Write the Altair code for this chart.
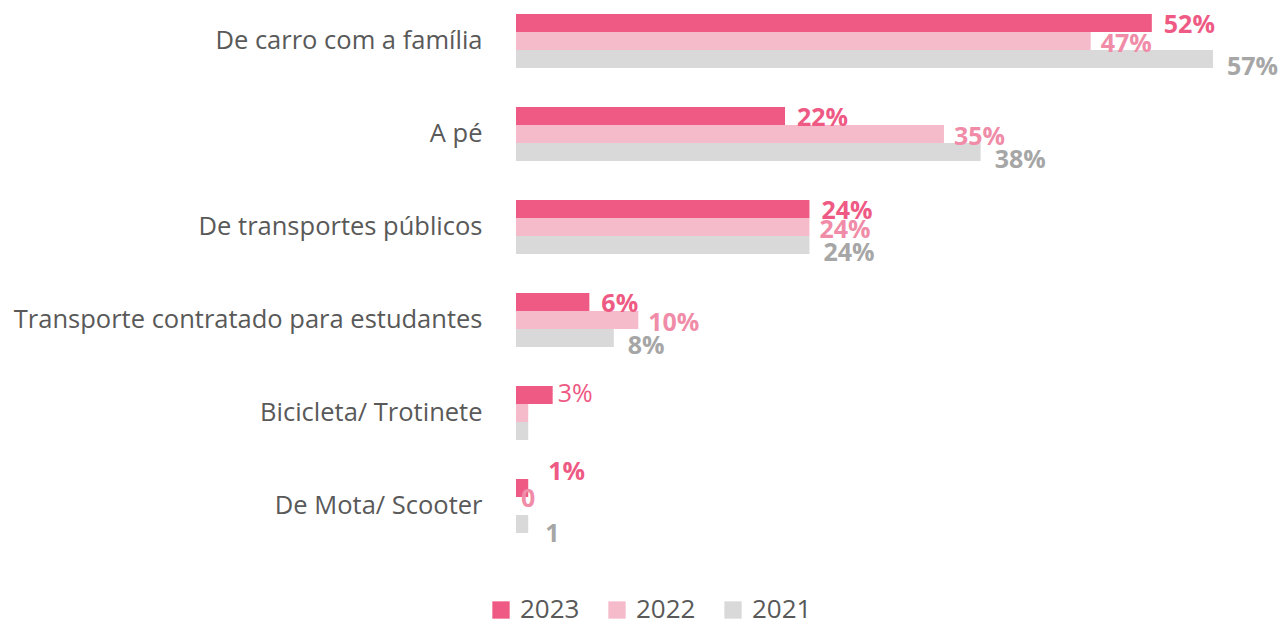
import altair as alt
import pandas as pd

categories = ["De carro com a família", "A pé", "De transportes públicos",
              "Transporte contratado para estudantes", "Bicicleta/ Trotinete",
              "De Mota/ Scooter"]
years = ["2023", "2022", "2021"]
values_2023 = [52, 22, 24, 6, 3, 1]
values_2022 = [47, 35, 24, 10, 1, 0]
values_2021 = [57, 38, 24, 8, 1, 1]
labels_2023 = ["52%", "22%", "24%", "6%", "3%", "1%"]
labels_2022 = ["47%", "35%", "24%", "10%", "", "0"]
labels_2021 = ["57%", "38%", "24%", "8%", "", "1"]

bar_colors = ["#EE5A84", "#F5BBCB", "#D9D9D9"]
label_colors = {"2023": "#EE5A84", "2022": "#F08CA8", "2021": "#A6A6A6"}

rows = []
for y, vals, labs in [("2023", values_2023, labels_2023),
                      ("2022", values_2022, labels_2022),
                      ("2021", values_2021, labels_2021)]:
    for c, v, l in zip(categories, vals, labs):
        rows.append({"cat": c, "year": y, "value": v, "label": l})
df = pd.DataFrame(rows)

FONT = "Open Sans"

y_enc = alt.Y("cat:N", sort=categories,
              scale=alt.Scale(paddingInner=0.419, paddingOuter=0),
              axis=alt.Axis(title=None, domain=False, ticks=False, labelPadding=34,
                            labelFontSize=25.5, labelColor="#595959", labelFont=FONT,
                            labelLimit=1000))
yoff_enc = alt.YOffset("year:N", sort=years, scale=alt.Scale(paddingInner=0, paddingOuter=0))
x_enc = alt.X("value:Q", scale=alt.Scale(domain=[0, 60.52], nice=False, zero=True), axis=None)

base = alt.Chart(df)

bars = base.mark_bar(size=18).encode(
    x=x_enc, y=y_enc, yOffset=yoff_enc,
    color=alt.Color("year:N", sort=years,
                    scale=alt.Scale(domain=years, range=bar_colors),
                    legend=alt.Legend(title=None, orient="none", direction="horizontal",
                                      legendX=-28, legendY=583, symbolType="square",
                                      symbolSize=300, symbolStrokeWidth=0,
                                      labelFontSize=26, labelFont=FONT, labelColor="#595959",
                                      labelOffset=6, columnPadding=24))
)

layers = [bars]
dys = {"2023": 2, "2022": 3, "2021": 8}
dxs = {"2023": 12, "2022": 10, "2021": 14}
for yr in years:
    t = base.mark_text(align="left", baseline="middle", fontWeight="bold", fontSize=25,
                       font=FONT, color=label_colors[yr], dx=dxs[yr], dy=dys[yr]).encode(
        x=x_enc, y=y_enc, yOffset=yoff_enc, text="label:N"
    ).transform_filter(
        f"datum.year == '{yr}' && datum.cat != '{categories[4]}' && datum.cat != '{categories[5]}'"
    )
    layers.append(t)

# Bicicleta label (regular weight)
layers.append(base.mark_text(align="left", baseline="middle", fontSize=25, font=FONT,
                             color=label_colors["2023"], dx=5, dy=-1).encode(
    x=x_enc, y=y_enc, yOffset=yoff_enc, text="label:N"
).transform_filter(f"datum.year == '2023' && datum.cat == '{categories[4]}'"))

# Mota labels
mota = {"2023": (20, -16), "2022": (5, -7), "2021": (17, 10)}
for yr, (dx, dy) in mota.items():
    layers.append(base.mark_text(align="left", baseline="middle", fontWeight="bold",
                                 fontSize=25, font=FONT, color=label_colors[yr],
                                 dx=dx, dy=dy).encode(
        x=x_enc, y=y_enc, yOffset=yoff_enc, text="label:N"
    ).transform_filter(f"datum.year == '{yr}' && datum.cat == '{categories[5]}'"))

chart = alt.layer(*layers).properties(
    width=740, height=519,
    autosize=alt.AutoSizeParams(type="none"),
    padding={"left": 508, "top": 6, "right": 22, "bottom": 86}
).configure_view(stroke=None)

chart.save("out.html", embed_options={"renderer": "svg", "actions": False})
